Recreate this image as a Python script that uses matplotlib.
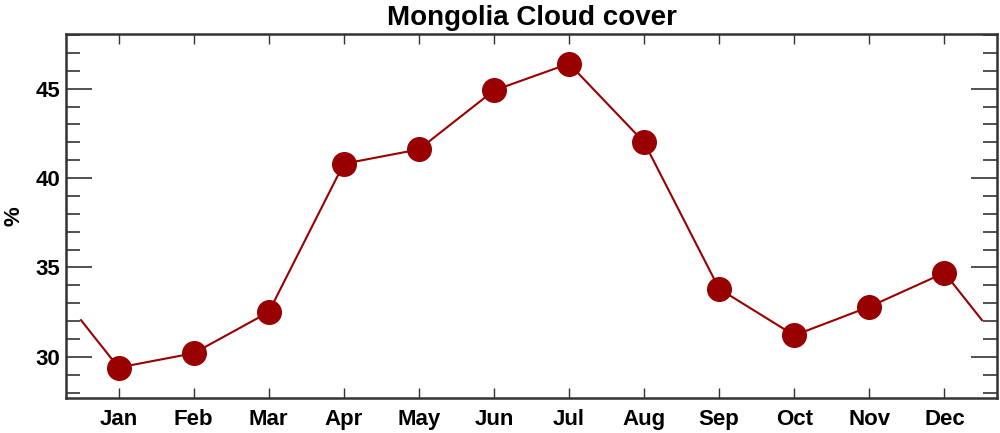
import matplotlib
matplotlib.use("Agg")
import matplotlib.pyplot as plt
import numpy as np
from matplotlib.ticker import MultipleLocator

plt.rcParams["font.family"] = ["Liberation Sans", "DejaVu Sans"]
plt.rcParams["font.weight"] = "bold"

months = ["Jan", "Feb", "Mar", "Apr", "May", "Jun",
          "Jul", "Aug", "Sep", "Oct", "Nov", "Dec"]
cloud = [29.4, 30.2, 32.5, 40.8, 41.6, 44.9, 46.4, 42.0, 33.8, 31.2, 32.8, 34.7]

red = "#990000"
x = np.arange(1, 13)
# wrap the annual cycle half a month past each end
edge = (cloud[0] + cloud[-1]) / 2
xl = np.concatenate([[0.5], x, [12.5]])
yl = np.concatenate([[edge], cloud, [edge]])

fig = plt.figure(figsize=(10, 4.33), dpi=100)
ax = fig.add_axes([0.066, 0.081, 0.931, 0.841])

ax.plot(xl, yl, color=red, linewidth=1.5, zorder=2)
ax.plot(x, cloud, "o", color=red, markersize=17, zorder=3)

ax.set_xlim(0.3, 12.7)
ax.set_ylim(27.7, 48.07)
ax.set_xticks(x)
ax.set_xticklabels(months)
ax.yaxis.set_major_locator(MultipleLocator(5))
ax.yaxis.set_minor_locator(MultipleLocator(1))

ax.tick_params(axis="x", which="major", direction="in", top=True, length=7,
               width=1, color="#333333", labelsize=16, pad=8)
ax.tick_params(axis="y", which="major", direction="in", right=True, length=19,
               width=1.2, color="#333333", labelsize=16, pad=4)
ax.tick_params(axis="y", which="minor", direction="in", right=True, length=10,
               width=1.2, color="#333333")
for s in ax.spines.values():
    s.set_linewidth(1.8)
    s.set_color("#333333")

ax.set_ylabel("%", fontsize=16, fontweight="bold", labelpad=8)
ax.set_title("Mongolia Cloud cover", fontsize=20, fontweight="bold", pad=6)

fig.savefig("out.png", dpi=100)
